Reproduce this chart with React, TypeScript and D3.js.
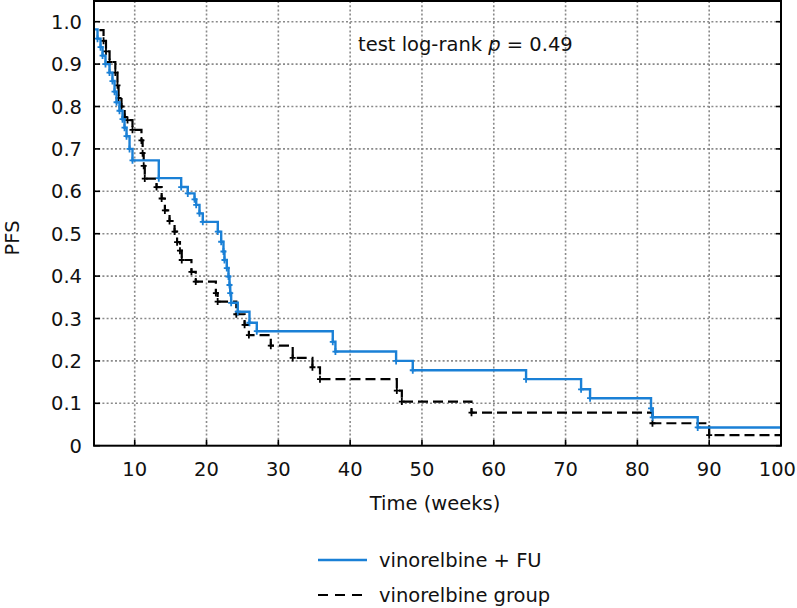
import React from "react";
import * as d3 from "d3";

// Kaplan-Meier step data (time in weeks, PFS after the step)
const blueTimes = [0, 4.0, 4.82, 5.24, 5.52, 5.93, 6.49, 6.9, 7.19, 7.47, 7.88, 8.3, 8.58, 8.86, 9.28, 9.69, 13.35, 16.47, 17.39, 18.33, 18.56, 19.02, 19.48, 21.57, 22.04, 22.36, 22.5, 22.82, 23.06, 23.2, 23.3, 23.43, 24.35, 25.98, 27.0, 37.58, 37.95, 46.4, 48.72, 64.5, 72.16, 73.41, 81.9, 82.13, 88.4];
const blueSurv = [1.0, 0.982, 0.96, 0.94, 0.92, 0.9, 0.88, 0.86, 0.835, 0.81, 0.79, 0.77, 0.75, 0.73, 0.7, 0.673, 0.631, 0.61, 0.595, 0.581, 0.568, 0.548, 0.528, 0.505, 0.481, 0.458, 0.438, 0.419, 0.399, 0.379, 0.36, 0.337, 0.316, 0.29, 0.27, 0.245, 0.222, 0.2, 0.178, 0.157, 0.133, 0.112, 0.088, 0.067, 0.043];

const blackTimes = [0, 4.0, 5.66, 6.0, 6.5, 7.3, 7.6, 7.75, 8.16, 8.6, 9.0, 9.69, 10.94, 11.1, 11.25, 11.4, 13.04, 13.75, 14.2, 14.85, 15.55, 15.9, 16.3, 16.55, 17.9, 18.5, 21.3, 21.55, 24.15, 25.3, 25.9, 28.95, 32.0, 34.75, 35.8, 46.5, 47.2, 56.9, 82.1, 90.0];
const blackSurv = [1.0, 0.98, 0.955, 0.93, 0.905, 0.88, 0.85, 0.82, 0.8, 0.775, 0.768, 0.745, 0.72, 0.69, 0.66, 0.63, 0.61, 0.583, 0.555, 0.53, 0.505, 0.48, 0.46, 0.438, 0.41, 0.387, 0.36, 0.34, 0.31, 0.285, 0.261, 0.236, 0.207, 0.185, 0.157, 0.13, 0.104, 0.078, 0.053, 0.025];

const endTime = 100;
const xTicks = [10, 20, 30, 40, 50, 60, 70, 80, 90, 100];
const yTicks = [0, 0.1, 0.2, 0.3, 0.4, 0.5, 0.6, 0.7, 0.8, 0.9, 1.0];
const yTickLabels = ["0", "0.1", "0.2", "0.3", "0.4", "0.5", "0.6", "0.7", "0.8", "0.9", "1.0"];
const seriesNames = ["vinorelbine + FU", "vinorelbine group"];
const xTitle = "Time (weeks)";
const yTitle = "PFS";

const BLUE = "#1a80d6";
const FONT = "'DejaVu Sans', 'Open Sans', sans-serif";
const FS = 19.5;

export default function App() {
  const W = 797, H = 608;
  const L = 94, R = 781, T = 1, B = 445.7;
  const x = d3.scaleLinear().domain([4.33, 100]).range([L, R]);
  const y = d3.scaleLinear().domain([0, 1.05]).range([B, 0.5]);
  const line = d3
    .line<[number, number]>()
    .x((d) => x(d[0]))
    .y((d) => y(d[1]))
    .curve(d3.curveStepAfter);

  const pts = (ts: number[], vs: number[]) => {
    const p: [number, number][] = ts.map((t, i) => [t, vs[i]]);
    p.push([endTime, vs[vs.length - 1]]);
    return p;
  };
  const marks = (ts: number[], vs: number[]) =>
    ts.map((t, i) => [t, vs[i]] as [number, number]).filter((d) => d[0] >= 4.4);

  const bluePts = pts(blueTimes, blueSurv);
  const blackPts = pts(blackTimes, blackSurv);

  const plus = (d: [number, number], color: string, k: number) => {
    const cx = x(d[0]), cy = y(d[1]);
    return (
      <g key={k} stroke={color} strokeWidth={1.8}>
        <line x1={cx} x2={cx} y1={cy - 3.5} y2={cy + 3.5} />
        <line x1={cx - 3} x2={cx + 3} y1={cy} y2={cy} />
      </g>
    );
  };

  return (
    <svg
      width={W}
      height={H}
      style={{ position: "absolute", left: 0, top: 0, background: "#fff" }}
      fontFamily={FONT}
    >
      <defs>
        <clipPath id="plotclip">
          <rect x={L} y={T} width={R - L} height={B - T} />
        </clipPath>
      </defs>
      <rect x={0} y={0} width={W} height={H} fill="#fff" />
      {/* grid */}
      <g stroke="#8a8a8a" strokeWidth={1.6} strokeDasharray="2,2.2">
        {yTicks.filter((v) => v > 0).map((v) => (
          <line key={"gy" + v} x1={L} x2={R} y1={y(v)} y2={y(v)} />
        ))}
        {xTicks.filter((v) => v < 100).map((v) => (
          <line key={"gx" + v} x1={x(v)} x2={x(v)} y1={T} y2={B} />
        ))}
      </g>
      {/* curves */}
      <g clipPath="url(#plotclip)">
        <path d={line(blackPts) || ""} fill="none" stroke="#000" strokeWidth={2.2} strokeDasharray="10,5" />
        {marks(blackTimes, blackSurv).map((d, i) => plus(d, "#000", i))}
        <path d={line(bluePts) || ""} fill="none" stroke={BLUE} strokeWidth={2.4} />
        {marks(blueTimes, blueSurv).map((d, i) => plus(d, BLUE, i))}
      </g>
      {/* frame */}
      <rect x={L} y={T} width={R - L} height={B - T} fill="none" stroke="#000" strokeWidth={2} />
      {/* ticks */}
      <g stroke="#000" strokeWidth={1.6}>
        {yTicks.map((v) => (
          <line key={"ly" + v} x1={L} x2={L + 6} y1={y(v)} y2={y(v)} />
        ))}
        {yTicks.map((v) => (
          <line key={"ry" + v} x1={R - 5} x2={R} y1={y(v)} y2={y(v)} />
        ))}
        {xTicks.map((v) => (
          <line key={"bx" + v} x1={x(v)} x2={x(v)} y1={B} y2={B - 6} />
        ))}
      </g>
      {/* tick labels */}
      <g fontSize={FS} fill="#111">
        {yTicks.map((v, i) => (
          <text key={"yl" + v} x={82} y={y(v)} dy="0.36em" textAnchor="end">
            {yTickLabels[i]}
          </text>
        ))}
        {xTicks.map((v, i) => {
          const last = i === xTicks.length - 1;
          return (
            <text
              key={"xl" + v}
              x={last ? Math.min(x(v) + 18, W - 1) : x(v)}
              y={476}
              textAnchor={last ? "end" : "middle"}
            >
              {v}
            </text>
          );
        })}
      </g>
      {/* axis titles */}
      <text x={435} y={510} fontSize={FS} textAnchor="middle" fill="#111">
        {xTitle}
      </text>
      <text transform="translate(19,238) rotate(-90)" fontSize={FS} textAnchor="middle" fill="#111">
        {yTitle}
      </text>
      {/* annotation */}
      <text x={358} y={51} fontSize={FS} fill="#111">
        test log-rank <tspan fontStyle="italic">p</tspan> = 0.49
      </text>
      {/* legend */}
      <line x1={318} x2={367} y1={560} y2={560} stroke={BLUE} strokeWidth={2.4} />
      <text x={379} y={567} fontSize={FS} fill="#111">
        {seriesNames[0]}
      </text>
      <line x1={318} x2={367} y1={595} y2={595} stroke="#000" strokeWidth={2.2} strokeDasharray="10,7" />
      <text x={379} y={602} fontSize={FS} fill="#111">
        {seriesNames[1]}
      </text>
    </svg>
  );
}
